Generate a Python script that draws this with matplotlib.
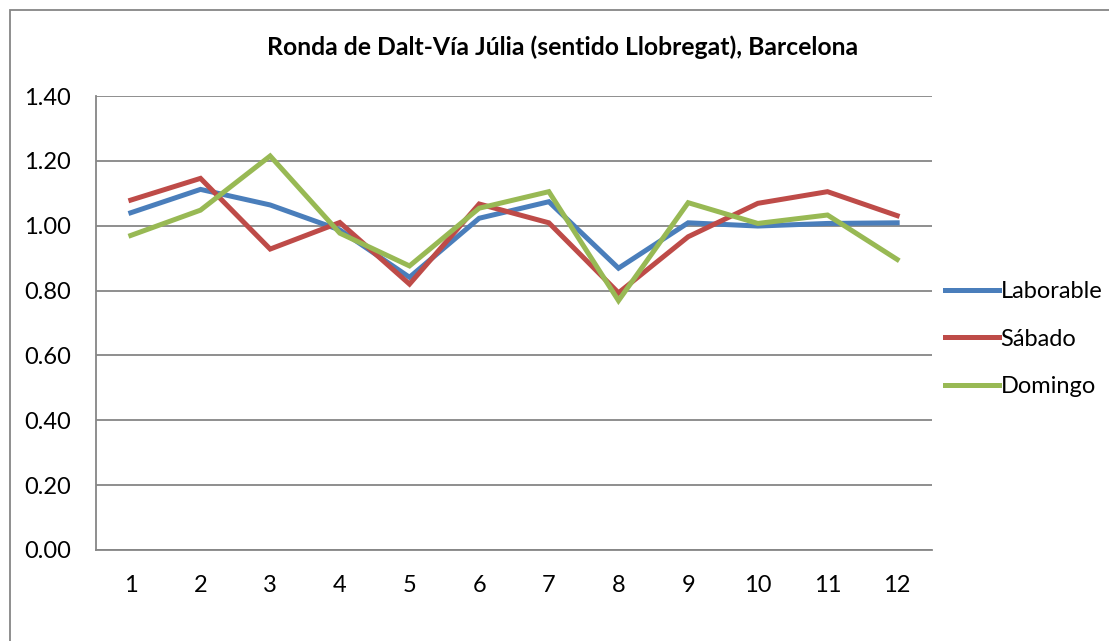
import numpy as np
import matplotlib
matplotlib.use("Agg")
import matplotlib.pyplot as plt
from matplotlib.patches import Rectangle

plt.rcParams['font.family'] = ['Lato', 'DejaVu Sans']

# values
categories = [1, 2, 3, 4, 5, 6, 7, 8, 9, 10, 11, 12]
laborable = [1.040, 1.112, 1.064, 0.987, 0.841, 1.023, 1.074, 0.869, 1.009, 0.999, 1.007, 1.009]
sabado = [1.079, 1.146, 0.928, 1.010, 0.820, 1.067, 1.009, 0.793, 0.966, 1.069, 1.105, 1.031]
domingo = [0.970, 1.048, 1.215, 0.977, 0.876, 1.054, 1.105, 0.769, 1.071, 1.007, 1.033, 0.896]
series_names = ["Laborable", "Sábado", "Domingo"]
y_ticks = [0.0, 0.2, 0.4, 0.6, 0.8, 1.0, 1.2, 1.4]
title = "Ronda de Dalt-Vía Júlia (sentido Llobregat), Barcelona"

colors = ["#4A7EBB", "#BE4B48", "#98B954"]
W, H = 1109, 641

fig = plt.figure(figsize=(W / 100, H / 100), dpi=100)
ax = fig.add_axes([96 / W, 1 - 550 / H, (932 - 96) / W, (550 - 96) / H])

x = np.arange(1, len(categories) + 1)
for vals, name, c in zip([laborable, sabado, domingo], series_names, colors):
    ax.plot(x, vals, color=c, lw=3.6, label=name, solid_joinstyle="miter", zorder=3)

ax.set_xlim(0.5, len(categories) + 0.5)
ax.set_ylim(0, 1.4)
ax.set_yticks(y_ticks)
ax.set_yticklabels([f"{v:.2f}" for v in y_ticks])
ax.set_xticks(x)
ax.set_xticklabels([str(c) for c in categories])
ax.tick_params(axis="both", length=0, labelsize=17, colors="black")
ax.tick_params(axis="y", pad=18)
ax.tick_params(axis="x", pad=18)

ax.grid(axis="y", color="#868686", lw=1.3, zorder=1)
for side in ["top", "right"]:
    ax.spines[side].set_visible(False)
for side in ["left", "bottom"]:
    ax.spines[side].set_color("#868686")
    ax.spines[side].set_linewidth(1.3)

fig.text(563 / W, 1 - 47 / H, title, ha="center", va="center",
         fontsize=17.8, fontweight="bold")

fig.legend(loc="center left", bbox_to_anchor=(945 / W, 1 - 339 / H),
           frameon=False, fontsize=17, handlelength=2.3, handletextpad=0.05,
           labelspacing=1.12, borderaxespad=0, borderpad=0)

# outer chart border
fig.add_artist(Rectangle((10 / W, -1), 2, 1 + (1 - 10 / H), transform=fig.transFigure,
                         fill=False, edgecolor="#868686", lw=1.3))

fig.savefig("out.png", dpi=100)
